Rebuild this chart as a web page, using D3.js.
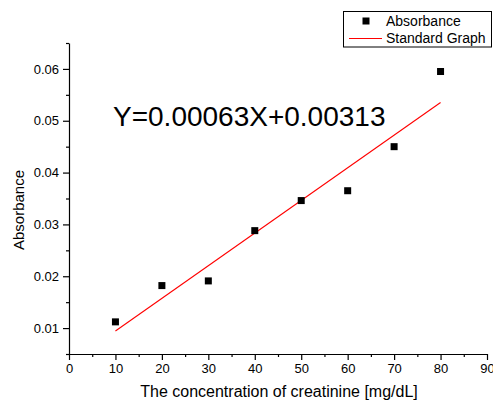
<!DOCTYPE html>
<html>
<head>
<meta charset="utf-8">
<script src="https://cdn.jsdelivr.net/npm/d3@7"></script>
<style>
    body { margin: 0; background: #fff; }
    svg { font-family: "Liberation Sans", Arial, sans-serif; }
</style>
</head>
<body>
<div id="chart"></div>
<script>
// measured points
const concentration = [10, 20, 30, 40, 50, 60, 70, 80];
const absorbance = [0.0112, 0.0182, 0.0191, 0.0288, 0.0346, 0.0365, 0.0450, 0.0595];

// linear fit shown on the chart
const fitSlope = 0.00063;
const fitIntercept = 0.00313;
const fitRange = [10, 80];

const xTicks = [0, 10, 20, 30, 40, 50, 60, 70, 80, 90];
const yTicks = [0.01, 0.02, 0.03, 0.04, 0.05, 0.06];

const dim = { width: 493, height: 405 };
const margin = { top: 43, left: 69, right: 6, bottom: 51 };

const svg = d3.select("#chart").append("svg")
    .attr("width", dim.width)
    .attr("height", dim.height);

const xScale = d3.scaleLinear()
    .domain([0, 90])
    .range([margin.left, dim.width - margin.right]);

const yScale = d3.scaleLinear()
    .domain([0.005, 0.065])
    .range([dim.height - margin.bottom, margin.top]);

// minor ticks first, then major axes on top
svg.append("g")
    .attr("transform", `translate(0, ${dim.height - margin.bottom})`)
    .call(d3.axisBottom(xScale).tickValues(d3.range(5, 90, 10)).tickSize(3).tickFormat(""))
    .call(g => g.select(".domain").remove());

svg.append("g")
    .attr("transform", `translate(${margin.left}, 0)`)
    .call(d3.axisLeft(yScale).tickValues([0.005, 0.015, 0.025, 0.035, 0.045, 0.055, 0.065]).tickSize(3).tickFormat(""))
    .call(g => g.select(".domain").remove());

svg.append("g")
    .attr("class", "xAxis")
    .attr("transform", `translate(0, ${dim.height - margin.bottom})`)
    .call(d3.axisBottom(xScale).tickValues(xTicks).tickSize(6).tickSizeOuter(0).tickPadding(4))
    .call(g => g.selectAll("text").attr("font-size", 13).attr("font-family", null));

svg.append("g")
    .attr("class", "yAxis")
    .attr("transform", `translate(${margin.left}, 0)`)
    .call(d3.axisLeft(yScale).tickValues(yTicks).tickFormat(d3.format(".2f")).tickSize(6).tickSizeOuter(0).tickPadding(4))
    .call(g => g.selectAll("text").attr("font-size", 13).attr("font-family", null));

svg.selectAll(".tick line, .domain").attr("stroke-width", 1.2);

// fit line
svg.append("line")
    .attr("x1", xScale(fitRange[0]))
    .attr("y1", yScale(fitSlope * fitRange[0] + fitIntercept))
    .attr("x2", xScale(fitRange[1]))
    .attr("y2", yScale(fitSlope * fitRange[1] + fitIntercept))
    .attr("stroke", "red")
    .attr("stroke-width", 1.1);

// points
const size = 7;
svg.selectAll(".point")
    .data(concentration)
    .enter().append("rect")
    .attr("class", "point")
    .attr("x", (d, i) => xScale(d) - size / 2)
    .attr("y", (d, i) => yScale(absorbance[i]) - size / 2)
    .attr("width", size)
    .attr("height", size)
    .attr("fill", "#000");

// equation
svg.append("text")
    .attr("x", 113)
    .attr("y", 126)
    .attr("font-size", 28)
    .text("Y=0.00063X+0.00313");

// axis titles
svg.append("text")
    .attr("x", (margin.left + dim.width - margin.right) / 2 + 1)
    .attr("y", 397)
    .attr("text-anchor", "middle")
    .attr("font-size", 16)
    .text("The concentration of creatinine [mg/dL]");

svg.append("text")
    .attr("transform", "translate(24, 210) rotate(-90)")
    .attr("text-anchor", "middle")
    .attr("font-size", 15)
    .text("Absorbance");

// legend
const legend = svg.append("g");
legend.append("rect")
    .attr("x", 343.5)
    .attr("y", 11.5)
    .attr("width", 148)
    .attr("height", 35.5)
    .attr("fill", "#fff")
    .attr("stroke", "#000")
    .attr("stroke-width", 1);
legend.append("rect")
    .attr("x", 362.5)
    .attr("y", 17.5)
    .attr("width", size)
    .attr("height", size)
    .attr("fill", "#000");
legend.append("text")
    .attr("x", 386)
    .attr("y", 26)
    .attr("font-size", 14)
    .text("Absorbance");
legend.append("line")
    .attr("x1", 349)
    .attr("x2", 382)
    .attr("y1", 38.5)
    .attr("y2", 38.5)
    .attr("stroke", "red")
    .attr("stroke-width", 1.1);
legend.append("text")
    .attr("x", 386)
    .attr("y", 43)
    .attr("font-size", 14)
    .text("Standard Graph");
</script>
</body>
</html>
